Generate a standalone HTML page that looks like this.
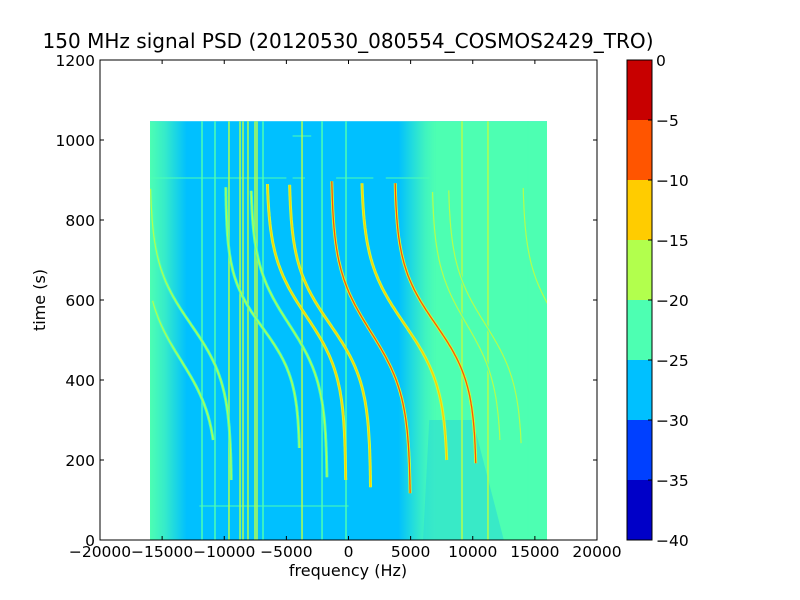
<!DOCTYPE html>
<html><head><meta charset="utf-8"><style>
body{margin:0;background:#fff;}
svg{display:block;font-family:"DejaVu Sans","Liberation Sans",sans-serif;}
</style></head><body>
<svg id="c" width="800" height="600" xmlns="http://www.w3.org/2000/svg">
<defs>
<linearGradient id="gl" x1="0" x2="1" y1="0" y2="0">
<stop offset="0" stop-color="#4dffb2"/><stop offset="0.4" stop-color="#4dffb2" stop-opacity="0.7"/><stop offset="1" stop-color="#4dffb2" stop-opacity="0"/>
</linearGradient>
<linearGradient id="gr" x1="0" x2="1" y1="0" y2="0">
<stop offset="0" stop-color="#4dffb2" stop-opacity="0"/><stop offset="0.7" stop-color="#4dffb2" stop-opacity="0.8"/><stop offset="1" stop-color="#4dffb2"/>
</linearGradient>
<clipPath id="cp"><rect x="150" y="121" width="397" height="419"/></clipPath>
</defs>
<text x="348" y="48" font-size="20" text-anchor="middle" textLength="611" lengthAdjust="spacingAndGlyphs">150 MHz signal PSD (20120530_080554_COSMOS2429_TRO)</text>
<g id="plot" clip-path="url(#cp)"></g>
<rect x="100" y="60" width="497" height="480" fill="none" stroke="#000" stroke-width="1"/>
<g id="axes"></g>
<text x="348" y="576" font-size="16" text-anchor="middle">frequency (Hz)</text>
<text x="45" y="300" font-size="16" text-anchor="middle" transform="rotate(-90 45 300)">time (s)</text>
<g id="cbar"></g>
</svg>
<script>
const xTicks=[-20000,-15000,-10000,-5000,0,5000,10000,15000,20000];
const yTicks=[0,200,400,600,800,1000,1200];
const cbLevels=[0,-5,-10,-15,-20,-25,-30,-35,-40];
const cbColors=['#c80000','#ff5500','#ffcc00','#b2ff4d','#4dffb2','#00c0ff','#0040ff','#0000c8'];
const dataFmin=-16000, dataFmax=16000, dataTmax=1047;
// satellite passes: f(t)=fc - A*tanh((t-tc)/tau)
const passFc=[-12700,-13500,-6900,-4800,-3400,-1500,1800,4500,7000,9500,11000,17000];
const passA=[3300,3000,3000,3100,3200,3300,3200,3500,3300,2800,3000,3000];
const passTc=[540,450,530,540,560,540,520,540,540,540,540,540];
const passTau=[150,150,130,150,150,150,160,160,150,150,150,150];
const passT0=[150,250,230,157,150,132,117,200,192,250,242,540];
const passT1=[880,600,885,875,892,888,900,892,892,870,875,880];
const passLevel=[3,3,3,3,2,2,1,2,1,4,3,3];
// steady carriers (vertical lines)
const carrierF=[-11790,-10745,-9620,-8730,-8490,-8090,-7525,-7365,-6880,-3740,-2130,-200,9135,11225,14445];
const carrierLevel=[4,4,3,3,3,3,3,3,4,3,4,4,3,3,4];
// faint horizontal bursts: time, start freq, end freq
const burstT=[905,905,905,905,1010,85];
const burstF0=[-16000,-1000,3000,-4500,-4500,-12000];
const burstF1=[-5000,2000,6500,-3500,-3000,0];

const X=f=>100+(f+20000)*497/40000;
const Y=t=>540-t*480/1200;
const NS='http://www.w3.org/2000/svg';
function mk(tag,attrs,parent){const e=document.createElementNS(NS,tag);for(const k in attrs)e.setAttribute(k,attrs[k]);parent.appendChild(e);return e;}
const plot=document.getElementById('plot');
const bg=mk('rect',{x:X(dataFmin),y:Y(dataTmax),width:X(dataFmax)-X(dataFmin),height:Y(0)-Y(dataTmax),fill:'#00c0ff'},plot);


const gl=mk('rect',{x:X(dataFmin),y:Y(dataTmax),width:X(-13000)-X(dataFmin),height:Y(0)-Y(dataTmax),fill:'url(#gl)'},plot);


const gr=mk('rect',{x:X(4000),y:Y(dataTmax),width:X(7000)-X(4000),height:Y(0)-Y(dataTmax),fill:'url(#gr)'},plot);


const gr2=mk('rect',{x:X(7000),y:Y(dataTmax),width:X(dataFmax)-X(7000),height:Y(0)-Y(dataTmax),fill:'#4dffb2'},plot);


const gr3=mk('path',{d:`M${X(6500)},${Y(300)} L${X(10000)},${Y(300)} L${X(12500)},${Y(0)} L${X(6000)},${Y(0)} Z`,fill:'#28d8d8',opacity:0.55},plot);


burstT.forEach((t,i)=>{
  const l=mk('line',{x1:X(burstF0[i]),x2:X(burstF1[i]),y1:Y(t),y2:Y(t),stroke:'#4dffb2','stroke-width':1.2,opacity:0.8},plot);
  
  
});
carrierF.forEach((f,i)=>{
  const l=mk('line',{x1:X(f),x2:X(f),y1:Y(dataTmax),y2:Y(0),stroke:cbColors[carrierLevel[i]],'stroke-width':1.5},plot);
  
  
});
passFc.forEach((fc,i)=>{
  let d='';
  for(let t=passT0[i];t<=passT1[i];t+=4){
    const f=fc-passA[i]*Math.tanh((t-passTc[i])/passTau[i]);
    d+=(d?'L':'M')+X(f).toFixed(1)+','+Y(t).toFixed(1);
  }
  const lv=passLevel[i];
  const halo=mk('path',{d:d,fill:'none',stroke:lv<=2?'#c8ff3a':'#4dffb2','stroke-width':3},plot);
  
  
  const p=mk('path',{d:d,fill:'none',stroke:cbColors[lv===4?3:lv],'stroke-width':lv<=1?1.3:1.2},plot);
  
  
});
const ax=document.getElementById('axes');
xTicks.forEach(v=>{
  const x=X(v);
  mk('line',{x1:x,x2:x,y1:540,y2:536,stroke:'#000'},ax);
  mk('line',{x1:x,x2:x,y1:60,y2:64,stroke:'#000'},ax);
  const t=mk('text',{x:x,y:557,'font-size':15.5,'text-anchor':'middle'},ax);t.textContent=v<0?'\u2212'+(-v):v;
  
  
});
yTicks.forEach(v=>{
  const y=Y(v);
  mk('line',{x1:100,x2:104,y1:y,y2:y,stroke:'#000'},ax);
  mk('line',{x1:597,x2:593,y1:y,y2:y,stroke:'#000'},ax);
  const t=mk('text',{x:95,y:y+6,'font-size':15.5,'text-anchor':'end'},ax);t.textContent=v;
  
  
});
const cb=document.getElementById('cbar');
const cbY=v=>60+(0-v)*480/40;
cbColors.forEach((c,i)=>{
  const r=mk('rect',{x:627,y:cbY(cbLevels[i]),width:25,height:cbY(cbLevels[i+1])-cbY(cbLevels[i]),fill:c},cb);
  
  
});
mk('rect',{x:627,y:60,width:25,height:480,fill:'none',stroke:'#000'},cb);
cbLevels.forEach(v=>{
  const y=cbY(v);
  mk('line',{x1:652,x2:648,y1:y,y2:y,stroke:'#000'},cb);
  const t=mk('text',{x:656,y:y+6,'font-size':15.5},cb);t.textContent=v<0?'\u2212'+(-v):v;
  
  
});
</script>
</body></html>
